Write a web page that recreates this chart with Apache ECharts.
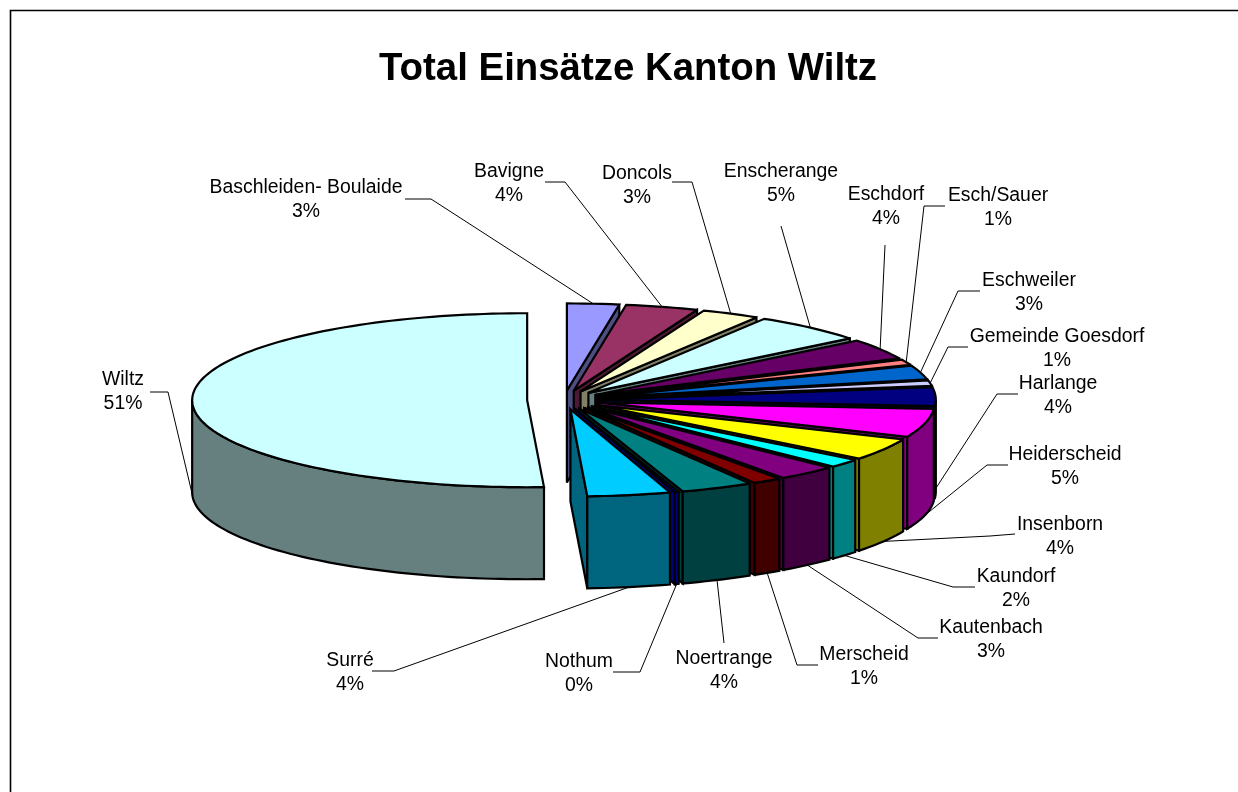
<!DOCTYPE html>
<html><head><meta charset="utf-8">
<style>html,body{margin:0;padding:0;background:#fff}#c{width:1238px;height:792px}</style>
<script src="https://cdn.jsdelivr.net/npm/echarts@6/dist/echarts.min.js"></script>
</head><body><div id="c"></div>
<script>
// Data: share of interventions per commune (percent)
const categories = ['Baschleiden- Boulaide','Bavigne','Doncols','Enscherange','Eschdorf','Esch/Sauer','Eschweiler','Gemeinde Goesdorf','Harlange','Heiderscheid','Insenborn','Kaundorf','Kautenbach','Merscheid','Noertrange','Nothum','Surré','Wiltz'];
const shares = [2.5,3.5,2.8,5.45,3.85,1.0,2.6,1.0,3.5,5.3,4.1,1.6,2.9,1.4,3.5,0.2,4.0,50.8];
const topColors = ['#9999FF','#993366','#FFFFCC','#CCFFFF','#660066','#FF8080','#0066CC','#CCCCFF','#000080','#FF00FF','#FFFF00','#00FFFF','#800080','#800000','#008080','#0000FF','#00CCFF','#CCFFFF'];
const sideColors = ['#4D4D80','#4D1A33','#808066','#668080','#330033','#804040','#003366','#666680','#000040','#800080','#808000','#008080','#400040','#400000','#004040','#000080','#006680','#668080'];

// Layout of the annotations (centre of each label, then the elbow of its leader)
const labelCentres = [[306,200],[509,184],[637,186],[781,184],[886,207],[998,208],[1029,293],[1057,349],[1058,396],[1065,467],[1060,537],[1016,589],[991,640],[864,667],[724,671],[579,674],[350,673],[123,392]];
const leaderStarts = [[405,199],[545,182],[672,182],[781,226],[885,245],[945,206],[980,291],[968,347],[1018,394],[1008,465],[1015,534],[975,587],[938,638],[818,665],[724,643],[613,672],[372,671],[150,392]];
const leaderElbows = [[431,199],[565,182],[692,182],null,null,[924,206],[958,291],[948,347],[997,394],[987,465],[990,536],[953,587],[918,638],[797,665],null,[640,672],[394,671],[168,392]];

const CX=564, CY=400, RX=335, RY=87, DEPTH=92, EXPLODE=0.11;
const total = shares.reduce((a,b)=>a+b,0);
const rad = d => d*Math.PI/180;
let acc = 0;
const spans = shares.map(v => { const s = acc/total*360; acc += v; return [s, acc/total*360]; });

function apex(i){
  const m = rad((spans[i][0]+spans[i][1])/2);
  return [CX+EXPLODE*RX*Math.sin(m), CY-EXPLODE*RY*Math.cos(m)];
}
function rimPt(i,deg,dy){
  const a = apex(i), t = rad(deg);
  return [a[0]+RX*Math.sin(t), a[1]-RY*Math.cos(t)+(dy||0)];
}
function arc(i,a0,a1,dy){
  const n = Math.max(1,Math.ceil(Math.abs(a1-a0)/1.5)), out=[];
  for(let k=0;k<=n;k++) out.push(rimPt(i,a0+(a1-a0)*k/n,dy));
  return out;
}
const edge = {stroke:'#000',lineWidth:2.2,lineJoin:'miter',miterLimit:3};
function poly(points,fill){ return {type:'polygon',shape:{points},style:Object.assign({fill},edge)}; }

function renderSlice(params){
  const i = params.dataIndex, [s,e] = spans[i], a = apex(i), kids=[];
  if(e>0 && e<180){
    const r = rimPt(i,e), rd = rimPt(i,e,DEPTH);
    kids.push(poly([a,r,rd,[a[0],a[1]+DEPTH]],sideColors[i]));
  }
  const o0=Math.max(s,90), o1=Math.min(e,270);
  if(o1>o0){
    kids.push(poly(arc(i,o0,o1,0).concat(arc(i,o1,o0,DEPTH)),sideColors[i]));
  }
  kids.push(poly([a].concat(arc(i,s,e,0)),topColors[i]));
  return {type:'group',children:kids};
}
function renderLabel(params){
  const i = params.dataIndex, m=(spans[i][0]+spans[i][1])/2;
  const front = m>85;
  const anchor = rimPt(i,m,front?DEPTH:0);
  const pts = [leaderStarts[i]];
  if(leaderElbows[i]) pts.push(leaderElbows[i]);
  pts.push(anchor);
  return {type:'group',children:[
    {type:'polyline',shape:{points:pts},style:{stroke:'#000',lineWidth:1,fill:null}},
    {type:'text',style:{x:labelCentres[i][0],y:labelCentres[i][1],
      text:categories[i]+'\n'+Math.round(shares[i])+'%',
      font:'19.4px "Liberation Sans", Arial, sans-serif',lineHeight:24,fill:'#000',align:'center',verticalAlign:'middle'}}
  ]};
}
const chart = echarts.init(document.getElementById('c'),null,{renderer:'canvas'});
const rows = categories.map((n,i)=>[i]);
chart.setOption({
  animation:false,
  backgroundColor:'#fff',
  title:{text:'Total Einsätze Kanton Wiltz',left:379,top:50,padding:0,
    textStyle:{fontFamily:'"Liberation Sans", Arial, sans-serif',fontWeight:'bold',fontSize:38.4,color:'#000'}},
  graphic:[{type:'polyline',silent:true,shape:{points:[[10.5,800],[10.5,10.5],[1240,10.5]]},style:{stroke:'#000',lineWidth:1.6,fill:null}}],
  series:[
    {type:'custom',coordinateSystem:'none',silent:true,renderItem:renderLabel,data:rows,z:1},
    {type:'custom',coordinateSystem:'none',silent:true,renderItem:renderSlice,data:rows,z:2}
  ]
});
</script></body></html>
